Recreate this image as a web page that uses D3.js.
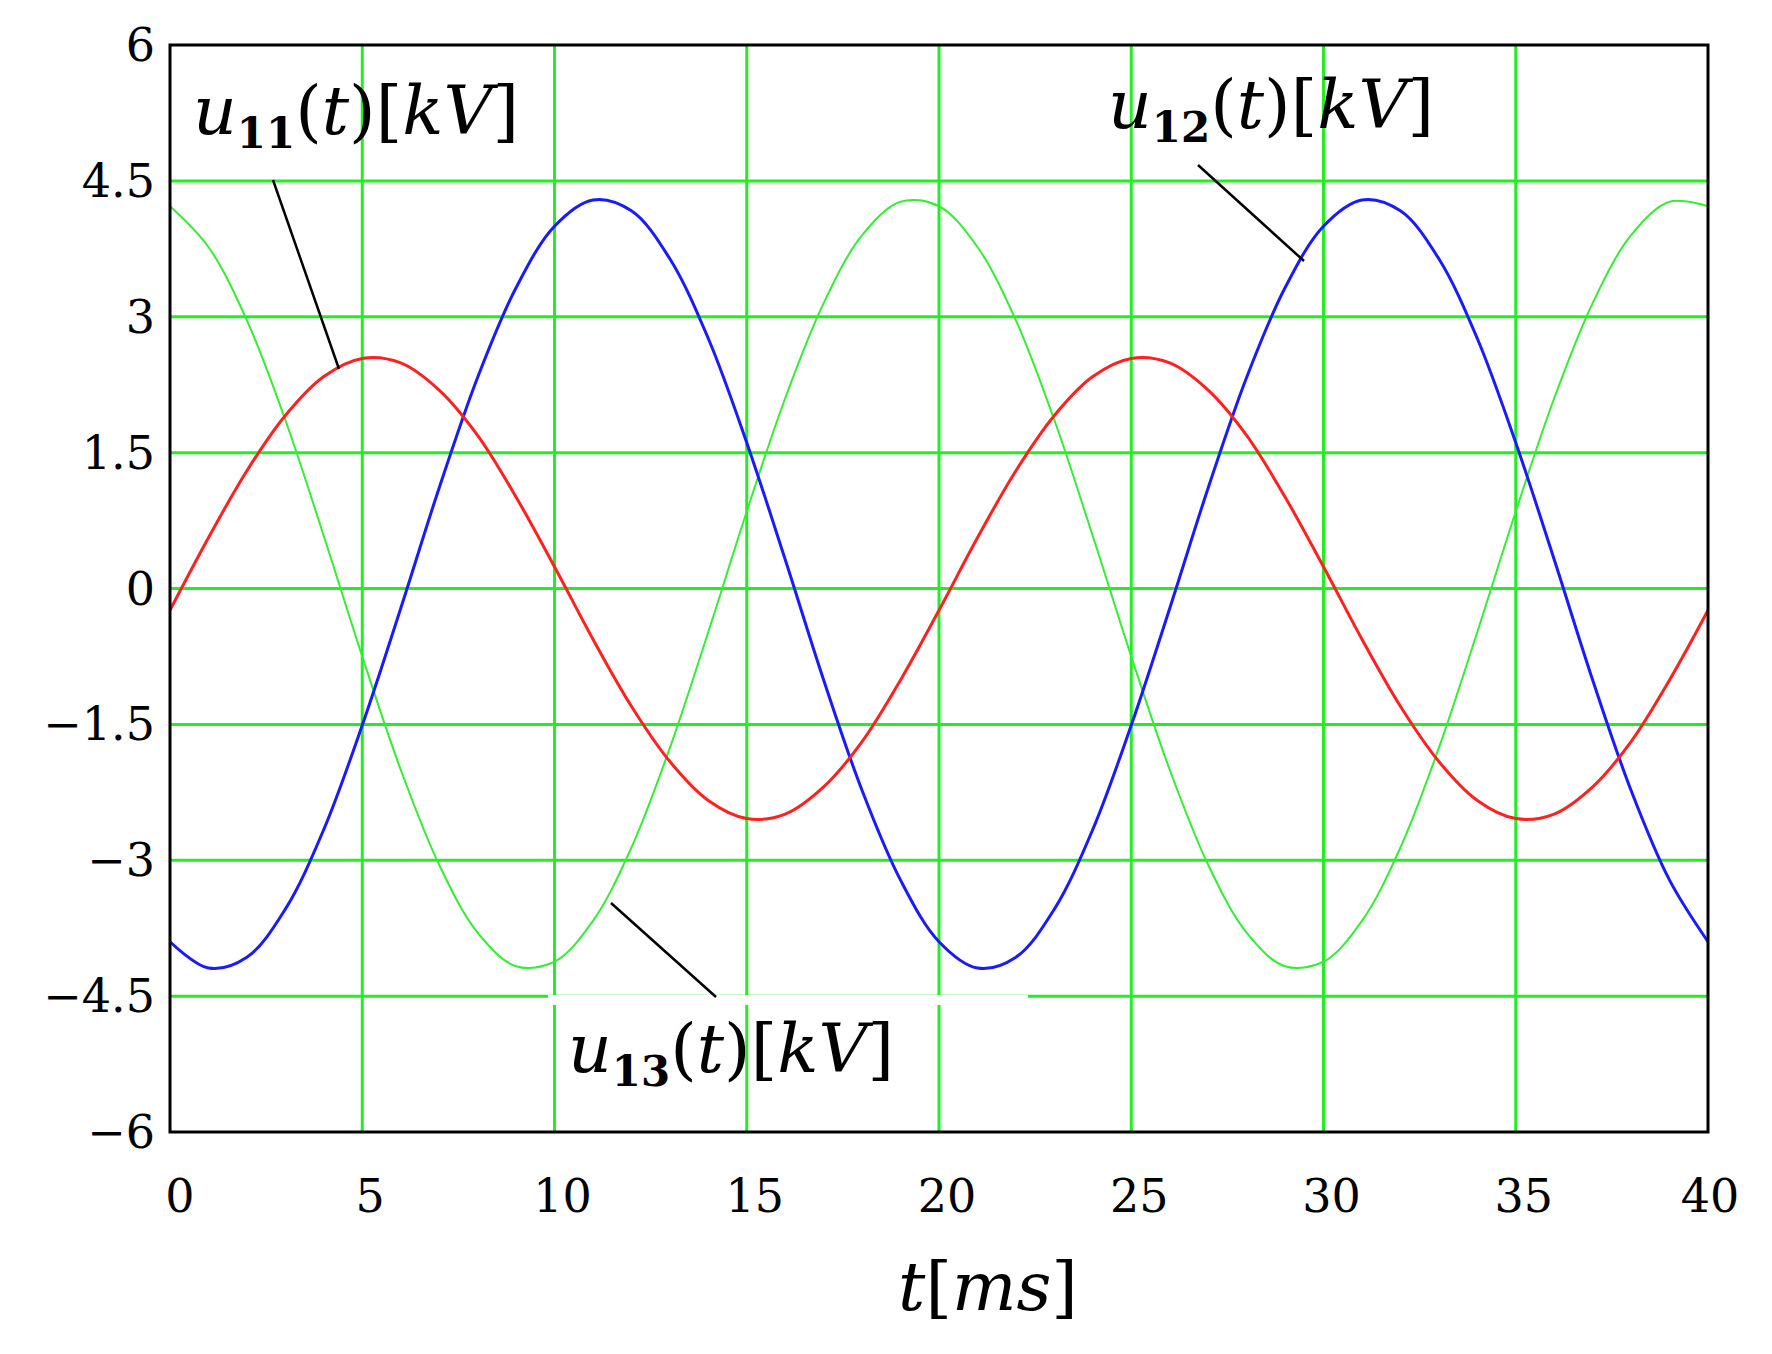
<!DOCTYPE html>
<html><head><meta charset="utf-8">
<script src="https://cdn.jsdelivr.net/npm/d3@7"></script>
<style>body{margin:0;background:#fff}</style></head>
<body><svg id="c" width="1772" height="1354"></svg>
<script>
const tMs = d3.range(0, 41);
const u11 = [-0.24,0.56,1.30,1.91,2.34,2.54,2.49,2.19,1.69,1.01,0.24,-0.56,-1.30,-1.91,-2.34,-2.54,-2.49,-2.19,-1.69,-1.01,-0.24,0.56,1.30,1.91,2.34,2.54,2.49,2.19,1.69,1.01,0.24,-0.56,-1.30,-1.91,-2.34,-2.54,-2.49,-2.19,-1.69,-1.01,-0.24];
const u12 = [-3.90,-4.19,-4.07,-3.54,-2.66,-1.51,-0.22,1.11,2.33,3.32,4.00,4.29,4.17,3.64,2.76,1.61,0.32,-1.01,-2.23,-3.22,-3.90,-4.19,-4.07,-3.54,-2.66,-1.51,-0.22,1.11,2.33,3.32,4.00,4.29,4.17,3.64,2.76,1.61,0.32,-1.01,-2.23,-3.22,-3.90];
const u13 = [4.22,3.77,2.96,1.86,0.58,-0.75,-2.00,-3.05,-3.80,-4.17,-4.12,-3.67,-2.86,-1.76,-0.48,0.85,2.10,3.15,3.90,4.27,4.22,3.77,2.96,1.86,0.58,-0.75,-2.00,-3.05,-3.80,-4.17,-4.12,-3.67,-2.86,-1.76,-0.48,0.85,2.10,3.15,3.90,4.27,4.22];
const xTicks = [0,5,10,15,20,25,30,35,40];
const yTicks = [-6,-4.5,-3,-1.5,0,1.5,3,4.5,6];
const yLabels = ["\u22126","\u22124.5","\u22123","\u22121.5","0","1.5","3","4.5","6"];

const svg = d3.select("#c");
const L=170,R=1708,T=45,B=1132;
const x = d3.scaleLinear().domain([0,40]).range([L,R]);
const y = d3.scaleLinear().domain([-6,6]).range([B,T]);
const serif = "'DejaVu Serif','Liberation Serif',serif";

svg.append("g").selectAll("line").data(xTicks.slice(1,-1)).join("line")
  .attr("x1",d=>x(d)).attr("x2",d=>x(d)).attr("y1",T).attr("y2",B)
  .attr("stroke","#22ee22").attr("stroke-width",3);
svg.append("g").selectAll("line").data(yTicks.slice(1,-1)).join("line")
  .attr("x1",L).attr("x2",R).attr("y1",d=>y(d)).attr("y2",d=>y(d))
  .attr("stroke","#22ee22").attr("stroke-width",3);

const line = d3.line().x((d,i)=>x(tMs[i])).y(d=>y(d)).curve(d3.curveCatmullRom);
[[u13,"#33ee33",2],[u12,"#1a1aff",3],[u11,"#ff2020",3]].forEach(([s,c,w])=>{
  svg.append("path").attr("d",line(s)).attr("fill","none").attr("stroke",c).attr("stroke-width",w);
});

svg.append("rect").attr("x",548).attr("y",995).attr("width",480).attr("height",10).attr("fill","#fff");

svg.append("rect").attr("x",L).attr("y",T).attr("width",R-L).attr("height",B-T)
  .attr("fill","none").attr("stroke","#000").attr("stroke-width",3);

svg.append("g").selectAll("text").data(yTicks).join("text")
  .attr("x",155).attr("y",d=>y(d)+16).attr("text-anchor","end")
  .attr("font-family",serif).attr("font-size",46).text((d,i)=>yLabels[i]);
svg.append("g").selectAll("text").data(xTicks).join("text")
  .attr("x",d=>x(d)+(d===0?10:d===40?2:8)).attr("y",1212).attr("text-anchor","middle")
  .attr("font-family",serif).attr("font-size",46).text(d=>d);

[[273,180,339,369],[1198,165,1304,261],[611,903,716,997]].forEach(p=>{
  svg.append("line").attr("x1",p[0]).attr("y1",p[1]).attr("x2",p[2]).attr("y2",p[3])
    .attr("stroke","#000").attr("stroke-width",2.5);
});

function lab(px,py,sub){
  const t=svg.append("text").attr("x",px).attr("y",py).attr("font-family",serif).attr("font-size",68);
  t.append("tspan").attr("font-style","italic").text("u");
  t.append("tspan").attr("font-size",42).attr("font-weight","bold").attr("dy",14).text(sub);
  t.append("tspan").attr("dy",-14).text("(");
  t.append("tspan").attr("font-style","italic").text("t");
  t.append("tspan").text(")[");
  t.append("tspan").attr("font-style","italic").text("kV");
  t.append("tspan").text("]");
}
lab(193,134,"11");
lab(1108,128,"12");
lab(568,1072,"13");
const tl=svg.append("text").attr("x",988).attr("y",1310).attr("text-anchor","middle").attr("font-family",serif).attr("font-size",68);
tl.append("tspan").attr("font-style","italic").text("t");
tl.append("tspan").text("[");
tl.append("tspan").attr("font-style","italic").text("ms");
tl.append("tspan").text("]");
</script></body></html>
